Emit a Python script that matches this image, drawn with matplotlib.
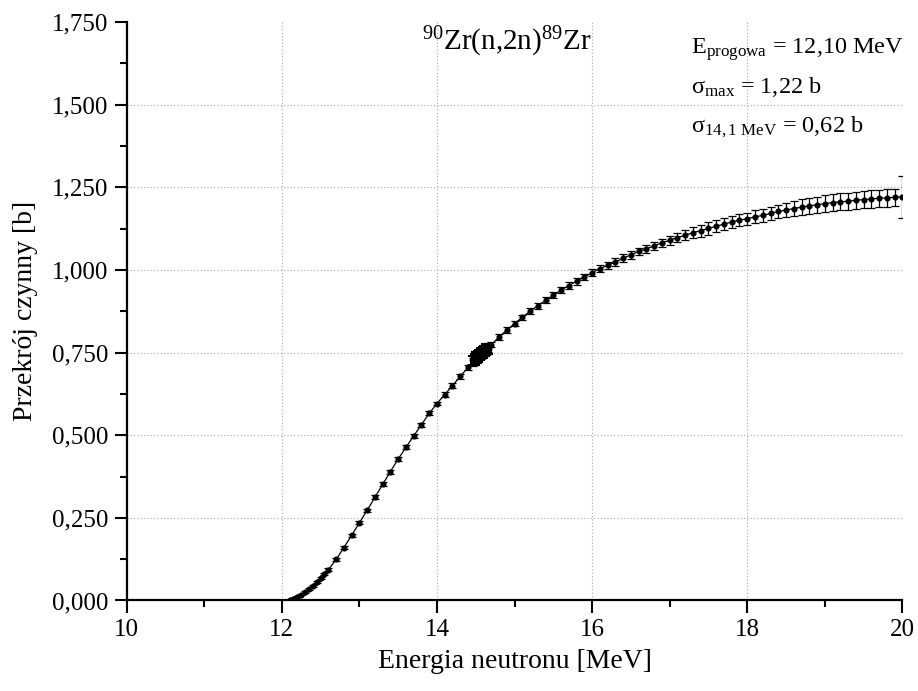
import matplotlib
matplotlib.use("Agg")
import matplotlib.pyplot as plt
from matplotlib.ticker import FuncFormatter, MultipleLocator

plt.rcParams['font.family'] = ['Liberation Serif', 'DejaVu Serif']
plt.rcParams['mathtext.fontset'] = 'custom'
plt.rcParams['mathtext.rm'] = 'Liberation Serif'
plt.rcParams['mathtext.it'] = 'Liberation Serif:italic'

# cross section data
energy = [12.10, 12.15, 12.20, 12.25, 12.30, 12.35, 12.40, 12.45, 12.50, 12.55,
          12.60, 12.70, 12.80, 12.90, 13.00, 13.10, 13.20, 13.30, 13.40, 13.50,
          13.60, 13.70, 13.80, 13.90, 14.00, 14.10, 14.20, 14.30, 14.40, 14.46,
          14.48, 14.50, 14.52, 14.54, 14.56, 14.58, 14.60, 14.62, 14.64, 14.66,
          14.70, 14.80, 14.90,
          15.00, 15.10, 15.20, 15.30, 15.40, 15.50, 15.60, 15.70, 15.80, 15.90,
          16.00, 16.10, 16.20, 16.30, 16.40, 16.50, 16.60, 16.70, 16.80, 16.90,
          17.00, 17.10, 17.20, 17.30, 17.40, 17.50, 17.60, 17.70, 17.80, 17.90,
          18.00, 18.10, 18.20, 18.30, 18.40, 18.50, 18.60, 18.70, 18.80, 18.90,
          19.00, 19.10, 19.20, 19.30, 19.40, 19.50, 19.60, 19.70, 19.80, 19.90,
          20.00]
sigma = [0.000, 0.004, 0.012, 0.018, 0.025, 0.034, 0.045, 0.057, 0.068, 0.080,
         0.093, 0.124, 0.160, 0.197, 0.235, 0.273, 0.312, 0.351, 0.390, 0.428,
         0.463, 0.498, 0.532, 0.566, 0.596, 0.623, 0.650, 0.678, 0.705, 0.722,
         0.727, 0.732, 0.737, 0.741, 0.745, 0.749, 0.753, 0.757, 0.761, 0.765,
         0.774, 0.797, 0.818,
         0.838, 0.857, 0.875, 0.892, 0.908, 0.923, 0.939, 0.953, 0.966, 0.979,
         0.992, 1.004, 1.014, 1.024, 1.035, 1.046, 1.056, 1.064, 1.073, 1.082,
         1.090, 1.098, 1.105, 1.113, 1.119, 1.126, 1.132, 1.139, 1.145, 1.151,
         1.155, 1.161, 1.165, 1.171, 1.177, 1.181, 1.186, 1.190, 1.194, 1.197,
         1.201, 1.204, 1.206, 1.208, 1.211, 1.213, 1.215, 1.217, 1.218, 1.220,
         1.221]
sigma_err = [0.002, 0.002, 0.002, 0.002, 0.003, 0.003, 0.003, 0.003, 0.004, 0.004,
             0.004, 0.005, 0.005, 0.005, 0.005, 0.005, 0.006, 0.006, 0.006, 0.006,
             0.006, 0.006, 0.006, 0.006, 0.006, 0.007, 0.007, 0.007, 0.008, 0.013,
             0.014, 0.014, 0.014, 0.014, 0.014, 0.014, 0.014, 0.014, 0.014, 0.013,
             0.008, 0.008, 0.008,
             0.008, 0.008, 0.009, 0.009, 0.009, 0.009, 0.010, 0.010, 0.010, 0.010,
             0.010, 0.011, 0.011, 0.011, 0.012, 0.012, 0.012, 0.012, 0.013, 0.013,
             0.014, 0.014, 0.015, 0.016, 0.018, 0.020, 0.018, 0.017, 0.017, 0.018,
             0.018, 0.019, 0.020, 0.020, 0.021, 0.022, 0.022, 0.025, 0.025, 0.025,
             0.026, 0.026, 0.026, 0.026, 0.026, 0.026, 0.026, 0.026, 0.026, 0.026,
             0.064]

title = r"$^{90}$Zr(n,2n)$^{89}$Zr"
notes = [r"E$_{\mathrm{progowa}}$ = 12,10 MeV",
         r"σ$_{\mathrm{max}}$ = 1,22 b",
         r"σ$_{\mathrm{14,1\ MeV}}$ = 0,62 b"]

fig = plt.figure(figsize=(9.18, 6.91), dpi=100)
ax = fig.add_axes([0.138, 0.131, 0.845, 0.837])

ax.errorbar(energy, sigma, yerr=sigma_err, fmt='o-', color='black',
            ms=3.4, lw=0.9, elinewidth=0.9, capsize=3.2, capthick=0.9)
# dense cluster of points around 14.5 MeV drawn heavier
ax.errorbar(energy[30:39], sigma[30:39], yerr=sigma_err[30:39], fmt='o', color='black',
            ms=6, elinewidth=1.2, capsize=4.5, capthick=1.5)

ax.set_xlim(10, 20)
ax.set_ylim(0, 1.75)

for v in [12, 14, 16, 18]:
    ax.axvline(v, color='#aaaaaa', ls=(0, (1, 2)), lw=0.8, zorder=0)
for v in [0.25, 0.5, 0.75, 1.0, 1.25, 1.5]:
    ax.axhline(v, color='#aaaaaa', ls=(0, (1, 2)), lw=0.8, zorder=0)

ax.spines['top'].set_visible(False)
ax.spines['right'].set_visible(False)
ax.spines['left'].set_linewidth(1.6)
ax.spines['bottom'].set_linewidth(1.6)

ax.xaxis.set_major_locator(MultipleLocator(2))
ax.xaxis.set_minor_locator(MultipleLocator(1))
ax.yaxis.set_major_locator(MultipleLocator(0.25))
ax.yaxis.set_minor_locator(MultipleLocator(0.125))
ax.yaxis.set_major_formatter(FuncFormatter(lambda v, p: f"{v:.3f}".replace('.', ',')))
ax.tick_params(which='major', direction='out', length=9, width=1.5, labelsize=18, pad=4)
ax.tick_params(which='minor', direction='out', length=5, width=1.5)

ax.set_xlabel("Energia neutronu [MeV]", fontsize=20, labelpad=6)
ax.set_ylabel("Przekrój czynny [b]", fontsize=20, labelpad=10)

ax.text(14.9, 1.69, title, fontsize=21, ha='center', va='center')
for i, s in enumerate(notes):
    ax.text(17.27, 1.653 - i * 0.118, s, fontsize=17.5, ha='left', va='baseline')

fig.savefig("out.png", dpi=100)
